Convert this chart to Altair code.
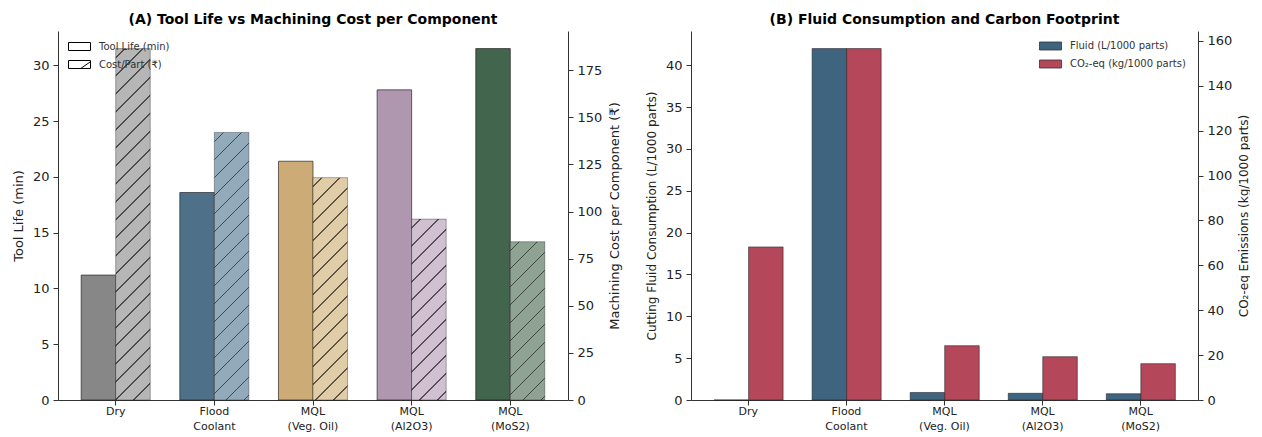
import altair as alt
import pandas as pd

# ---------------- data ----------------
categories = ["Dry", "Flood\nCoolant", "MQL\n(Veg. Oil)", "MQL\n(Al2O3)", "MQL\n(MoS2)"]
tool_life = [11.2, 18.6, 21.4, 27.8, 31.5]          # min
cost_part = [186.5, 142.0, 118.0, 96.0, 84.0]       # INR per component
fluid_use = [0.0, 42.0, 0.9, 0.8, 0.75]             # L / 1000 parts
co2_eq = [68.2, 156.6, 24.2, 19.3, 16.2]            # kg / 1000 parts

legend_a = ["Tool Life (min)", "Cost/Part (₹)"]
legend_b = ["Fluid (L/1000 parts)", "CO₂-eq (kg/1000 parts)"]

# ---------------- style ----------------
tool_colors = ["#878787", "#4e7189", "#cdab76", "#b097b0", "#42654d"]
cost_colors = ["#b6b6b6", "#93aabb", "#e0cca7", "#d0c0d1", "#8ea392"]
fluid_color = "#3e6480"
co2_color = "#b4475a"
FONT = "DejaVu Sans"

W1, W2, H = 510, 507, 369
PAD_IN, PAD_OUT = 0.3, 0.235

df = pd.DataFrame({"cat": categories, "tool": tool_life, "cost": cost_part,
                   "fluid": fluid_use, "co2": co2_eq})

tool_max = max(tool_life) * 1.05
cost_max = max(cost_part) * 1.05
fluid_max = max(fluid_use) * 1.05
co2_max = max(co2_eq) * 1.05


def x_enc():
    return alt.X("cat:N", sort=categories,
                 scale=alt.Scale(domain=categories, paddingInner=PAD_IN, paddingOuter=PAD_OUT),
                 axis=alt.Axis(title=None, labelAngle=0, labelExpr="split(datum.label, '\\n')",
                               labelFontSize=11, labelLineHeight=15, tickSize=5,
                               labelPadding=0, grid=False))


def xoff_enc():
    return alt.XOffset("metric:N", scale=alt.Scale(domain=["a", "b"], paddingInner=0, paddingOuter=0))


def hatch_gradient(face, w, h, spacing=18.0, phase=9.0, half=0.75):
    # "/" hatch lines: constant along px + py in pixel space
    r, g, b = int(face[1:3], 16), int(face[3:5], 16), int(face[5:7], 16)
    line = "#%02x%02x%02x" % (int(r * 0.42), int(g * 0.42), int(b * 0.42))
    L = w + h
    stops = [alt.GradientStop(color=face, offset=0)]
    f = phase
    while f < L:
        a = max((f - half) / L, 0.0)
        bb = min((f + half) / L, 1.0)
        stops += [alt.GradientStop(color=face, offset=a), alt.GradientStop(color=line, offset=a),
                  alt.GradientStop(color=line, offset=bb), alt.GradientStop(color=face, offset=bb)]
        f += spacing
    stops.append(alt.GradientStop(color=face, offset=1))
    k = L / (w * w + h * h)
    return alt.LinearGradient(gradient="linear", stops=stops, x1=0, y1=0, x2=w * k, y2=h * k)


step1 = W1 / (len(categories) - PAD_IN + 2 * PAD_OUT)
bar_w1 = step1 * (1 - PAD_IN) / 2

# ---------------- panel A ----------------
tool_layer = alt.Chart(df).transform_calculate(metric="'a'").mark_bar(
    stroke="#222", strokeWidth=0.8, strokeOpacity=0.85
).encode(
    x=x_enc(), xOffset=xoff_enc(),
    y=alt.Y("tool:Q", scale=alt.Scale(domain=[0, tool_max], nice=False),
            axis=alt.Axis(orient="left", title="Tool Life (min)", values=list(range(0, 31, 5)),
                          grid=False, titlePadding=7)),
    color=alt.Color("cat:N", scale=alt.Scale(domain=categories, range=tool_colors), legend=None),
)

cost_layers = []
for i, c in enumerate(categories):
    h = cost_part[i] / cost_max * H
    grad = hatch_gradient(cost_colors[i], bar_w1, h)
    cost_layers.append(
        alt.Chart(df).transform_filter(alt.FieldEqualPredicate(field="cat", equal=c))
        .transform_calculate(metric="'b'")
        .mark_bar(fill=grad, stroke="#000", strokeWidth=0.8, strokeOpacity=0.4)
        .encode(
            x=x_enc(), xOffset=xoff_enc(),
            y=alt.Y("cost:Q", scale=alt.Scale(domain=[0, cost_max], nice=False),
                    axis=alt.Axis(orient="right", title="Machining Cost per Component (₹)",
                                  values=list(range(0, 176, 25)), grid=False, titlePadding=7,
                                  titleAngle=270, titleBaseline="top")),
        )
    )
cost_group = alt.layer(*cost_layers)

rect_path = "M-1.375,-0.5H1.375V0.5H-1.375Z"
hatch_path = "M-1.375,-0.5H1.375V0.5H-1.375Z M0.15,0.5L1.375,-0.35"

legend_layer_a = alt.Chart(df).transform_filter("false").mark_point(
    filled=False, color="black", strokeWidth=1, size=256, opacity=1
).encode(
    shape=alt.Shape("leg:N", scale=alt.Scale(domain=legend_a, range=[rect_path, hatch_path]),
                    legend=alt.Legend(title=None, orient="none", legendX=13, legendY=7,
                                      symbolSize=256, symbolStrokeColor="black",
                                      symbolStrokeWidth=1, symbolOpacity=1,
                                      labelFontSize=10, labelColor="#333", labelOffset=11,
                                      rowPadding=3, padding=0)),
)

panel_a = alt.layer(tool_layer, cost_group, legend_layer_a).resolve_scale(
    y="independent"
).properties(
    width=W1, height=H,
    title=alt.TitleParams("(A) Tool Life vs Machining Cost per Component", fontSize=14,
                          fontWeight="bold", anchor="middle", frame="group", offset=4,
                          color="black", font=FONT),
)

# ---------------- panel B ----------------
series_scale = alt.Scale(domain=legend_b, range=[fluid_color, co2_color])
legend_b_def = alt.Legend(title=None, orient="none", legendX=351, legendY=6.5,
                          symbolType=rect_path, symbolSize=256, symbolStrokeColor="#333",
                          symbolStrokeWidth=0.8, labelFontSize=10, labelColor="#333",
                          labelOffset=11, rowPadding=3, padding=0)

fluid_layer = alt.Chart(df).transform_calculate(metric="'a'", series=f"'{legend_b[0]}'").mark_bar(
    stroke="#222", strokeWidth=0.8, strokeOpacity=0.7
).encode(
    x=x_enc(), xOffset=xoff_enc(),
    y=alt.Y("fluid:Q", scale=alt.Scale(domain=[0, fluid_max], nice=False),
            axis=alt.Axis(orient="left", title="Cutting Fluid Consumption (L/1000 parts)",
                          values=list(range(0, 41, 5)), grid=False, titlePadding=7,
                          titleFontSize=12)),
    color=alt.Color("series:N", scale=series_scale, legend=legend_b_def),
)

co2_layer = alt.Chart(df).transform_calculate(metric="'b'", series=f"'{legend_b[1]}'").mark_bar(
    stroke="#222", strokeWidth=0.8, strokeOpacity=0.7
).encode(
    x=x_enc(), xOffset=xoff_enc(),
    y=alt.Y("co2:Q", scale=alt.Scale(domain=[0, co2_max], nice=False),
            axis=alt.Axis(orient="right", title="CO₂-eq Emissions (kg/1000 parts)",
                          values=list(range(0, 161, 20)), grid=False, titlePadding=7,
                          titleFontSize=12, titleAngle=270, titleBaseline="top")),
    color=alt.Color("series:N", scale=series_scale, legend=legend_b_def),
)

panel_b = alt.layer(fluid_layer, co2_layer).resolve_scale(y="independent").properties(
    width=W2, height=H,
    title=alt.TitleParams("(B) Fluid Consumption and Carbon Footprint", fontSize=14,
                          fontWeight="bold", anchor="middle", frame="group", offset=4,
                          color="black", font=FONT),
)

chart = alt.hconcat(panel_a, panel_b, spacing=23).resolve_scale(
    color="independent", shape="independent"
).properties(
    padding={"left": 4, "top": 5, "right": 0, "bottom": 2}
).configure_view(stroke=None).configure_axis(
    labelFont=FONT, titleFont=FONT, labelFontSize=13, titleFontSize=13,
    labelColor="#222", titleColor="#222", titleFontWeight="normal",
    domainColor="#333", tickColor="#333", domainWidth=1, tickWidth=1, tickSize=5,
    labelPadding=4,
).configure_legend(labelFont=FONT)

chart.save("out.html", embed_options={"renderer": "svg", "actions": False})
